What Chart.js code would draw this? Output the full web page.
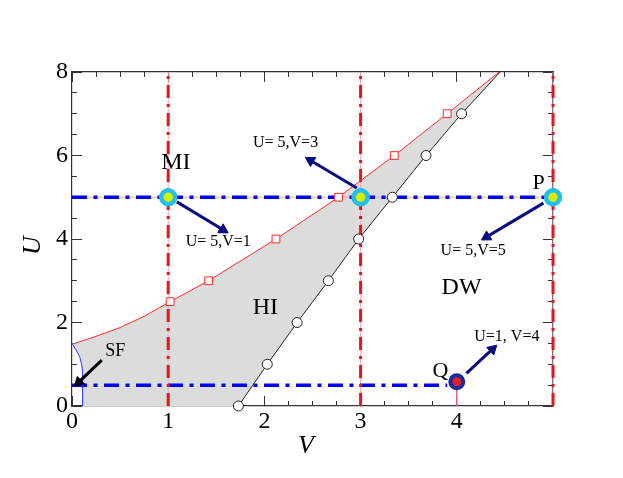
<!DOCTYPE html>
<html>
<head>
<meta charset="utf-8">
<script src="https://cdn.jsdelivr.net/npm/chart.js@4.4.1/dist/chart.umd.min.js"></script>
<style>
  html, body { margin: 0; padding: 0; background: #ffffff; }
  #wrap { width: 623px; height: 478px; }
</style>
</head>
<body>
<div id="wrap"><canvas id="c" width="623" height="478"></canvas></div>
<script>
// ---- data (V on x, U on y) ----
const upperV = [0.03, 0.25, 0.5, 0.75, 1.02, 1.42, 2.12, 2.77, 3.35, 3.90, 4.44];
const upperU = [1.5, 1.67, 1.88, 2.15, 2.5, 3.0, 4.0, 5.0, 6.0, 7.0, 8.0];
const squareV = [1.02, 1.42, 2.12, 2.77, 3.35, 3.90];
const squareU = [2.5, 3.0, 4.0, 5.0, 6.0, 7.0];
const lowerV = [1.73, 2.03, 2.34, 2.665, 2.98, 3.33, 3.68, 4.05, 4.45];
const lowerU = [0, 1, 2, 3, 4, 5, 6, 7, 8];
const circleV = [1.73, 2.03, 2.34, 2.665, 2.98, 3.33, 3.68, 4.05];
const circleU = [0, 1, 2, 3, 4, 5, 6, 7];
const sfV = [0.11, 0.11, 0.10, 0.08, 0.04, 0.0];
const sfU = [0, 0.8, 1.0, 1.18, 1.35, 1.5];
const cutV = [1, 3, 5];            // vertical dash-dot lines
const cutU = [5];                  // horizontal dash-dot line (full width)
const lowLineU = [0.5];            // lower horizontal dash-dot line
const lowLineV = [0, 3.9];
const stateV = [1, 3, 5];
const stateU = [5, 5, 5];
const qV = [4];
const qU = [0.58];
const arrowFromV = [1.09, 2.96, 4.90, 4.10];
const arrowFromU = [4.89, 5.22, 4.86, 0.78];
const arrowToV   = [1.57, 2.48, 4.31, 4.37];
const arrowToU   = [4.22, 5.88, 4.05, 1.36];
const sfArrowV = [0.31, 0.07];
const sfArrowU = [1.10, 0.57];
const labelText = ['MI', 'U= 5,V=3', 'U= 5,V=1', 'HI', 'DW', 'P', 'U= 5,V=5', 'Q', 'U=1, V=4', 'SF'];
const labelV = [1.08, 2.22, 1.52, 2.01, 4.05, 4.85, 4.17, 3.83, 4.52, 0.45];
const labelU = [5.82, 6.30, 3.93, 2.35, 2.83, 5.34, 3.71, 0.84, 1.65, 1.32];
const labelSize = [24, 16, 16, 24, 24, 22, 16, 22, 16, 18];
const xMajorTicks = [0, 1, 2, 3, 4];

// ---- helpers to build point lists ----
const pts = (xs, ys) => xs.map((v, i) => ({x: v, y: ys[i]}));
const polygon = pts(upperV, upperU)
  .concat(pts(lowerV, lowerU).reverse())
  .concat(pts(sfV, sfU));

const serif = '"Liberation Serif", "Times New Roman", serif';
const RED = '#e8141c', BLUE = '#0000ff', PINK = '#f4a8b8', NAVY = '#0a0a80';

const datasets = [];
// gray HI region
datasets.push({data: polygon, showLine: true, fill: 'shape', backgroundColor: '#dcdcdc',
  borderWidth: 0, borderColor: 'rgba(0,0,0,0)', pointRadius: 0, order: 100});
// thin pink guide lines under the dash-dots
cutV.forEach(v => datasets.push({data: [{x: v, y: 0}, {x: v, y: 8}], showLine: true,
  borderColor: PINK, borderWidth: 1, pointRadius: 0, order: 95}));
cutU.forEach(u => datasets.push({data: [{x: 0, y: u}, {x: 5, y: u}], showLine: true,
  borderColor: PINK, borderWidth: 1, pointRadius: 0, order: 95}));
datasets.push({data: [{x: qV[0], y: 0}, {x: qV[0], y: qU[0]}], showLine: true,
  borderColor: '#f06070', borderWidth: 1.5, pointRadius: 0, order: 95});
// upper (red) and lower (black) boundaries and SF curve
datasets.push({data: pts(upperV, upperU), showLine: true, borderColor: '#ff2a2a', borderWidth: 1,
  pointRadius: 0, order: 70});
datasets.push({data: pts(lowerV, lowerU), showLine: true, borderColor: '#222', borderWidth: 1,
  pointRadius: 0, order: 70});
datasets.push({data: pts(sfV, sfU), showLine: true, borderColor: '#2233ff', borderWidth: 1,
  pointRadius: 0, order: 70});
// dash-dot lines
cutV.forEach(v => datasets.push({data: [{x: v, y: 0}, {x: v, y: 8}], showLine: true,
  borderColor: RED, borderWidth: 3, borderDash: [13, 6, 3, 6], pointRadius: 0, order: 80}));
cutU.forEach(u => datasets.push({data: [{x: 0, y: u}, {x: 5, y: u}], showLine: true,
  borderColor: BLUE, borderWidth: 3.5, borderDash: [15, 6.5, 4, 6.5], pointRadius: 0, order: 80}));
lowLineU.forEach(u => datasets.push({data: [{x: lowLineV[0], y: u}, {x: lowLineV[1], y: u}], showLine: true,
  borderColor: BLUE, borderWidth: 3.5, borderDash: [15, 6.5, 4, 6.5], pointRadius: 0, order: 80}));
// markers
datasets.push({data: pts(squareV, squareU), showLine: false, pointStyle: 'rect', pointRadius: 5.5,
  pointBackgroundColor: '#ffffff', pointBorderColor: '#ff2a2a', pointBorderWidth: 1, order: 60});
datasets.push({data: pts(circleV, circleU), showLine: false, pointStyle: 'circle', pointRadius: 5,
  pointBackgroundColor: '#ffffff', pointBorderColor: '#222', pointBorderWidth: 1, order: 60});

// arrows
function arrowRotation(ctx) {
  const ch = ctx.chart, d = ch.data.datasets[ctx.datasetIndex].data;
  const sx = ch.scales.x, sy = ch.scales.y;
  const dx = sx.getPixelForValue(d[1].x) - sx.getPixelForValue(d[0].x);
  const dy = sy.getPixelForValue(d[1].y) - sy.getPixelForValue(d[0].y);
  return Math.atan2(dx, -dy) * 180 / Math.PI;
}
function addArrow(a, b, color) {
  datasets.push({data: [a, b], showLine: true, borderColor: color, borderWidth: 3,
    pointStyle: 'triangle', pointRadius: c => c.dataIndex === 1 ? 6 : 0,
    pointRotation: arrowRotation, pointBackgroundColor: color, pointBorderColor: color,
    pointBorderWidth: 1, order: 50});
}
arrowFromV.forEach((v, i) => addArrow({x: v, y: arrowFromU[i]}, {x: arrowToV[i], y: arrowToU[i]}, NAVY));
addArrow({x: sfArrowV[0], y: sfArrowU[0]}, {x: sfArrowV[1], y: sfArrowU[1]}, '#000000');

// state points
datasets.push({data: pts(stateV, stateU), showLine: false, pointStyle: 'circle', pointRadius: 7,
  pointBackgroundColor: '#d6ef00', pointBorderColor: '#22c0f0', pointBorderWidth: 4.5, order: 40});
datasets.push({data: pts(qV, qU), showLine: false, pointStyle: 'circle', pointRadius: 6.5,
  pointBackgroundColor: '#e3202a', pointBorderColor: '#1a2a9a', pointBorderWidth: 4, order: 40});

datasets.forEach(d => { d.clip = false; d.tension = 0; });

const textPlugin = {
  id: 'texts',
  afterDatasetsDraw(chart) {
    const {ctx, scales: {x, y}} = chart;
    ctx.save();
    ctx.fillStyle = '#000';
    ctx.textAlign = 'center';
    ctx.textBaseline = 'middle';
    labelText.forEach((t, i) => {
      ctx.font = labelSize[i] + 'px ' + serif;
      ctx.fillText(t, x.getPixelForValue(labelV[i]), y.getPixelForValue(labelU[i]));
    });
    ctx.restore();
  }
};

const AX = '#333';
function minorAxis(position, axis, max, step, size) {
  return {
    type: 'linear', position, axis, min: 0, max, weight: -1,
    ticks: {display: false, stepSize: step, autoSkip: false},
    grid: {drawOnChartArea: false, drawTicks: true, tickLength: size, tickColor: AX, tickWidth: 1},
    border: {display: false},
    afterFit: s => { if (axis === 'x') s.height = 0; else s.width = 0; }
  };
}

new Chart(document.getElementById('c'), {
  type: 'line',
  data: {datasets},
  plugins: [textPlugin],
  options: {
    responsive: false,
    animation: false,
    events: [],
    layout: {autoPadding: false, padding: {left: 0, right: 70, top: 72, bottom: 0}},
    plugins: {legend: {display: false}, tooltip: {enabled: false}},
    scales: {
      x: {
        type: 'linear', position: 'bottom', min: 0, max: 5,
        afterBuildTicks: s => { s.ticks = xMajorTicks.map(v => ({value: v})); },
        ticks: {autoSkip: false, maxRotation: 0, padding: 11, color: '#000',
          font: {family: serif, size: 24}, callback: v => String(v)},
        grid: {drawOnChartArea: false, tickLength: -10, tickColor: AX, tickWidth: 1},
        border: {display: true, color: AX, width: 1.2},
        title: {display: true, text: 'V  ', color: '#000', padding: {top: 0, bottom: 16},
          font: {family: serif, size: 26, style: 'italic'}},
        afterFit: s => { s.height = 72; }
      },
      y: {
        type: 'linear', position: 'left', min: 0, max: 8,
        ticks: {stepSize: 2, autoSkip: false, padding: 14, color: '#000',
          font: {family: serif, size: 24}},
        grid: {drawOnChartArea: false, tickLength: -10, tickColor: AX, tickWidth: 1},
        border: {display: true, color: AX, width: 1.2},
        title: {display: true, text: 'U  ', color: '#000', padding: {top: 18, bottom: 0},
          font: {family: serif, size: 26, style: 'italic'}},
        afterFit: s => { s.width = 72; }
      },
      xm: minorAxis('bottom', 'x', 5, 0.25, -5),
      ym: minorAxis('left', 'y', 8, 0.5, -5),
      xt: Object.assign(minorAxis('top', 'x', 5, 0.25, -5), {border: {display: true, color: AX, width: 1.2}}),
      xtM: minorAxis('top', 'x', 5, 1, -10),
      yr: Object.assign(minorAxis('right', 'y', 8, 0.5, -5), {border: {display: true, color: AX, width: 1.2}}),
      yrM: minorAxis('right', 'y', 8, 2, -10)
    }
  }
});
</script>
</body>
</html>
